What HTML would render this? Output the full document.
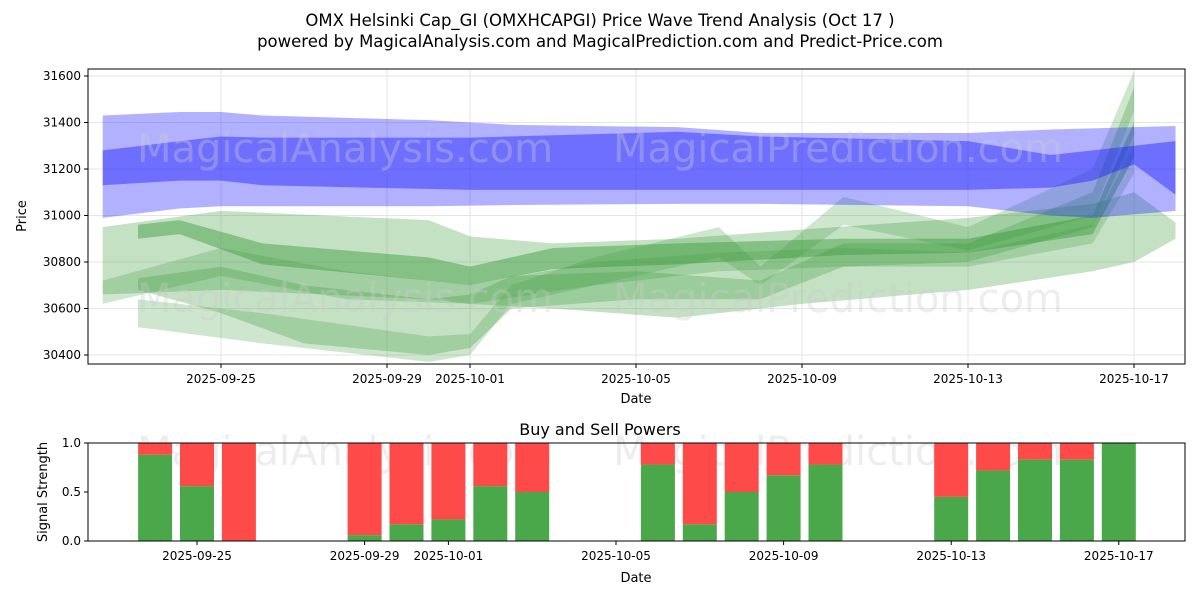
<!DOCTYPE html>
<html><head><meta charset="utf-8"><style>
body{margin:0;background:#fff;font-family:"Liberation Sans","DejaVu Sans",sans-serif}
svg text{font-family:"DejaVu Sans","Liberation Sans",sans-serif}
</style></head><body>
<svg id="c" width="1200" height="600" xmlns="http://www.w3.org/2000/svg">
<rect width="1200" height="600" fill="#fff"/>
<text x="600" y="26" text-anchor="middle" font-size="16.5">OMX Helsinki Cap_GI (OMXHCAPGI) Price Wave Trend Analysis (Oct 17 )</text>
<text x="600" y="47" text-anchor="middle" font-size="16.5">powered by MagicalAnalysis.com and MagicalPrediction.com and Predict-Price.com</text>
<text x="600" y="435" text-anchor="middle" font-size="16">Buy and Sell Powers</text>
<g id="topg"></g><g id="botg"></g>
</svg>
<script>
// ---- data ----
const topTickDates=["2025-09-25","2025-09-29","2025-10-01","2025-10-05","2025-10-09","2025-10-13","2025-10-17"];
const topTickDays=[3,7,9,13,17,21,25]; // days since 2025-09-22
const priceTicks=[30400,30600,30800,31000,31200,31400,31600];
// bands: [day, top, bottom]
const blueOuter=[[0.15,31430,30990],[2,31445,31030],[3,31445,31040],[4,31430,31040],[8,31410,31040],[10,31390,31045],[14,31380,31050],[16,31355,31050],[21,31355,31040],[23,31370,31000],[24,31375,30990],[26,31385,31020]];
const blueInner=[[0.15,31280,31130],[2,31320,31150],[3,31340,31150],[4,31335,31130],[9,31335,31110],[14,31360,31110],[16,31340,31110],[21,31320,31110],[23,31260,31120],[24,31280,31150],[25,31300,31220],[26,31320,31090]];
const greenA=[[0.15,30950,30660],[3,31020,30680],[8,30980,30640],[9,30910,30620],[11,30880,30600],[14,30900,30560],[17,30940,30620],[21,30990,30680],[24,31050,30760],[25,31100,30800],[26,30970,30900]];
const greenB=[[1,30960,30900],[2,30980,30920],[4,30880,30790],[8,30820,30720],[9,30780,30700],[11,30860,30770],[14,30880,30790],[18,30900,30830],[21,30900,30840],[24,31000,30920],[25,31400,31250]];
const greenC=[[1,30730,30680],[3,30780,30580],[5,30700,30450],[8,30640,30400],[9,30660,30430],[10,30740,30600],[13,30760,30640],[16,30720,30640],[18,30880,30780],[21,30880,30800],[24,31100,30950],[25,31550,31350]];
const greenD=[[1,30640,30520],[4,30580,30450],[8,30480,30370],[9,30490,30400],[10,30700,30620],[12,30820,30700],[15,30950,30820],[16,30780,30700],[18,31080,30960],[21,30950,30850],[24,31200,31000],[25,31620,31450]];
const greenE=[[0.15,30720,30620],[3,30860,30740],[6,30760,30640],[9,30700,30620],[12,30800,30700],[15,30840,30760],[18,30860,30780],[21,30840,30780],[24,30960,30880],[25,31300,31180]];
const barDays=[2,3,4,7,8,9,10,11,14,15,16,17,18,21,22,23,24,25];
const buyVals=[0.88,0.56,0,0.06,0.17,0.22,0.56,0.5,0.78,0.17,0.5,0.67,0.78,0.45,0.72,0.83,0.83,1.0];
const sigTicks=[0,0.5,1.0];
// ---- axes ----
const NS="http://www.w3.org/2000/svg";
const X0=88,X1=1185,TY0=69,TY1=364,BY0=443,BY1=541;
const xT=d=>221+(d-3)*41.5;
const yT=v=>76+(31600-v)*0.2325;
const xB=d=>197+(d-3)*41.9;
const yB=v=>541-v*98;
function el(p,tag,a){const e=document.createElementNS(NS,tag);for(const k in a)e.setAttribute(k,a[k]);p.appendChild(e);return e;}
const topG=document.getElementById('topg'),botG=document.getElementById('botg');
function wm(g,y){
 [[345,"MagicalAnalysis.com"],[838,"MagicalPrediction.com"]].forEach(([x,s])=>{
  const tx=el(g,'text',{x:x,y:y,'text-anchor':'middle','font-size':40,fill:'#ccc','fill-opacity':0.35});tx.textContent=s;
  
  });
}
priceTicks.forEach(v=>{const l=el(topG,'line',{x1:X0,x2:X1,y1:yT(v),y2:yT(v),stroke:'#e5e5e5'});
 
 });
topTickDays.forEach(d=>{const l=el(topG,'line',{x1:xT(d),x2:xT(d),y1:TY0,y2:TY1,stroke:'#e5e5e5'});
 
 });
function band(arr,fill,op,name){
 const up=arr.map(p=>xT(p[0])+','+yT(p[1])), dn=arr.slice().reverse().map(p=>xT(p[0])+','+yT(p[2]));
 const pg=el(topG,'polygon',{points:up.concat(dn).join(' '),fill:fill,'fill-opacity':op});
 
 
}
band(greenA,'#3a9a3a',0.3,'green-band-a');
band(greenE,'#3a9a3a',0.25,'green-band-e');
band(greenB,'#3a9a3a',0.45,'green-band-b');
band(greenC,'#3a9a3a',0.3,'green-band-c');
band(greenD,'#3a9a3a',0.25,'green-band-d');
band(blueOuter,'#2020ff',0.35,'blue-band-outer');
band(blueInner,'#2020ff',0.45,'blue-band-inner');
wm(topG,162);wm(topG,312);
el(topG,'rect',{x:X0,y:TY0,width:X1-X0,height:TY1-TY0,fill:'none',stroke:'#000'});
priceTicks.forEach(v=>{el(topG,'line',{x1:X0-4,x2:X0,y1:yT(v),y2:yT(v),stroke:'#000'});
 const tx=el(topG,'text',{x:X0-7,y:yT(v)+4,'text-anchor':'end','font-size':12});tx.textContent=v;
 
 });
topTickDays.forEach((d,i)=>{el(topG,'line',{x1:xT(d),x2:xT(d),y1:TY1,y2:TY1+4,stroke:'#000'});
 const tx=el(topG,'text',{x:xT(d),y:TY1+19,'text-anchor':'middle','font-size':12});tx.textContent=topTickDates[i];
 
 });
let lab=el(topG,'text',{x:636,y:403,'text-anchor':'middle','font-size':13});lab.textContent='Date';


lab=el(topG,'text',{x:26,y:216,'text-anchor':'middle','font-size':13,transform:'rotate(-90 26 216)'});lab.textContent='Price';


wm(botG,465);
barDays.forEach((d,i)=>{
 const x=xB(d)-17,b=buyVals[i];
 const r=el(botG,'rect',{x:x,y:yB(1),width:34,height:yB(b)-yB(1),fill:'#ff4a4a'});
 
 
 const g=el(botG,'rect',{x:x,y:yB(b),width:34,height:yB(0)-yB(b),fill:'#4aa84a'});
 
 
});
el(botG,'rect',{x:X0,y:BY0,width:X1-X0,height:BY1-BY0,fill:'none',stroke:'#000'});
sigTicks.forEach(v=>{el(botG,'line',{x1:X0-4,x2:X0,y1:yB(v),y2:yB(v),stroke:'#000'});
 const tx=el(botG,'text',{x:X0-7,y:yB(v)+4,'text-anchor':'end','font-size':12});tx.textContent=v.toFixed(1);
 
 });
topTickDays.forEach((d,i)=>{el(botG,'line',{x1:xB(d),x2:xB(d),y1:BY1,y2:BY1+4,stroke:'#000'});
 const tx=el(botG,'text',{x:xB(d),y:BY1+19,'text-anchor':'middle','font-size':12});tx.textContent=topTickDates[i];
 
 });
lab=el(botG,'text',{x:636,y:582,'text-anchor':'middle','font-size':13});lab.textContent='Date';


lab=el(botG,'text',{x:47,y:492,'text-anchor':'middle','font-size':13,transform:'rotate(-90 47 492)'});lab.textContent='Signal Strength';


</script>
</body></html>
